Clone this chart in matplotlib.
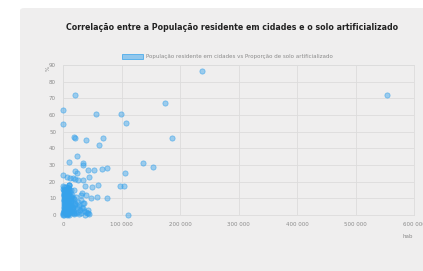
import matplotlib
matplotlib.use("Agg")
import matplotlib.pyplot as plt
from matplotlib.patches import FancyBboxPatch
from matplotlib.ticker import FuncFormatter

title = "Correlação entre a População residente em cidades e o solo artificializado"
legend_label = "População residente em cidades vs Proporção de solo artificializado"

# population (hab)
pop = [237600, 553800, 185800, 174400, 20500, 0, 0, 55900, 99100, 107700,
       19400, 20500, 39300, 68900, 62100, 24500, 10300, 33600, 33600, 136200,
       154400, 20500, 23900, 43300, 53500, 67200, 75700, 106000, 45000, 0,
       6300, 12000, 17000, 21000, 26000, 34700, 37600, 50100, 59300, 97400,
       104800, 11000, 18000, 32000, 40000, 47400, 57600, 74700, 34700, 110600,
       # dense cluster
       500, 1000, 1500, 2000, 2500, 3000, 3500, 4000, 4500, 5000,
       5500, 6000, 6500, 7000, 7500, 8000, 8500, 9000, 9500, 10000,
       500, 1200, 2200, 3200, 4200, 5200, 6200, 7200, 8200, 9200,
       800, 1800, 2800, 3800, 4800, 5800, 6800, 7800, 8800, 9800,
       1000, 2000, 3000, 4000, 5000, 6000, 7000, 8000, 9000, 10000,
       300, 1300, 2300, 3300, 4300, 5300, 6300, 7300, 8300, 9300,
       11000, 12500, 14000, 15500, 17000, 18500, 20000, 11500, 13000, 16000,
       12000, 14500, 17500, 19000, 13500, 15000, 18000, 21000, 22500, 24000,
       25000, 27000, 29000, 31000, 33000, 36000, 38000, 41000, 43000, 44000,
       26000, 28000, 30000, 35000, 39000, 42000, 23000, 27500, 31500, 36500,
       700, 1700, 2700, 3700, 4700, 5700, 6700, 7700, 8700, 9700,
       1100, 2100, 3100, 4100, 5100, 6100, 7100, 8100, 9100, 10500,
       2000, 2000, 2000, 2000, 2000, 2000, 2000, 2000, 5000, 5000,
       5000, 5000, 5000, 5000, 5000, 5000, 8000, 8000, 8000, 8000,
       8000, 8000, 8000, 8000, 11000, 11000, 11000, 11000, 11000, 11000,
       14000, 14000, 14000, 14000, 16500, 16500, 16500, 16500, 19000, 19000]
# artificialized soil share (%)
soil = [86.4, 72.0, 46.0, 67.4, 72.0, 63.0, 54.5, 60.6, 60.6, 55.2,
        46.6, 46.0, 44.8, 46.0, 41.8, 35.6, 32.0, 31.4, 30.0, 31.4,
        28.8, 26.6, 25.0, 27.0, 27.0, 27.4, 28.0, 25.4, 22.6, 24.0,
        23.0, 22.5, 22.0, 21.5, 21.0, 21.0, 17.4, 16.8, 18.0, 17.4,
        17.4, 18.0, 15.0, 13.4, 12.0, 10.4, 10.6, 10.0, 7.4, 0.0,
        # dense cluster
        1.0, 3.0, 5.0, 7.0, 9.0, 11.0, 13.0, 15.0, 17.0, 2.0,
        4.0, 6.0, 8.0, 10.0, 12.0, 14.0, 16.0, 1.5, 3.5, 5.5,
        15.5, 13.5, 11.5, 9.5, 7.5, 5.5, 3.5, 1.5, 0.5, 16.5,
        0.5, 2.5, 4.5, 6.5, 8.5, 10.5, 12.5, 14.5, 16.5, 18.0,
        12.0, 9.0, 6.0, 3.0, 0.5, 14.0, 11.0, 8.0, 5.0, 2.0,
        17.5, 15.0, 12.5, 10.0, 7.5, 5.0, 2.5, 0.0, 16.0, 13.0,
        3.0, 6.0, 9.0, 12.0, 4.0, 1.0, 7.0, 14.0, 10.0, 2.0,
        8.0, 11.0, 5.0, 0.5, 15.0, 3.5, 9.5, 6.5, 1.5, 4.5,
        2.0, 0.5, 3.0, 1.0, 4.0, 2.5, 0.0, 1.5, 3.0, 0.5,
        8.0, 5.0, 12.0, 4.0, 2.0, 1.0, 11.0, 6.0, 9.0, 7.0,
        0.0, 2.0, 4.0, 6.0, 8.0, 10.0, 12.0, 14.0, 16.0, 18.0,
        17.0, 15.0, 13.0, 11.0, 9.0, 7.0, 5.0, 3.0, 1.0, 0.0,
        0.2, 2.2, 4.2, 6.2, 8.2, 10.2, 12.2, 14.2, 1.2, 3.2,
        5.2, 7.2, 9.2, 11.2, 13.2, 15.2, 0.8, 2.8, 4.8, 6.8,
        8.8, 10.8, 12.8, 14.8, 1.8, 4.4, 6.9, 9.4, 11.9, 15.8,
        2.6, 5.6, 8.6, 11.6, 1.4, 4.1, 7.7, 10.1, 2.3, 6.3]

xticks = [0, 100000, 200000, 300000, 400000, 500000, 600000]
yticks = [0, 10, 20, 30, 40, 50, 60, 70, 80, 90]

W, H = 423, 271
fig = plt.figure(figsize=(W / 100, H / 100), dpi=100)
fig.patch.set_facecolor("white")

card = FancyBboxPatch((20 / W, -0.05), 1.2, (H - 8) / H + 0.05,
                      boxstyle="round,pad=0,rounding_size=0.01",
                      transform=fig.transFigure, facecolor="#efeeee",
                      edgecolor="none", zorder=-5)
fig.patches.append(card)

ax = fig.add_axes([63 / W, (H - 215) / H, (414 - 63) / W, (215 - 65) / H])
ax.set_zorder(2)
ax.set_facecolor("none")
ax.scatter(pop, soil, s=14, facecolor=(54 / 255, 162 / 255, 235 / 255, 0.45),
           edgecolor=(54 / 255, 162 / 255, 235 / 255, 0.6), linewidths=0.6,
           zorder=3, clip_on=False)
ax.set_xlim(0, 600000)
ax.set_ylim(0, 90)
ax.set_xticks(xticks)
ax.set_yticks(yticks)
ax.xaxis.set_major_formatter(FuncFormatter(lambda v, p: f"{int(v):,}".replace(",", " ")))
ax.grid(True, color="#dcdcdc", linewidth=0.6, zorder=0)
ax.set_axisbelow(True)
for s in ax.spines.values():
    s.set_color("#dcdcdc")
    s.set_linewidth(0.6)
ax.tick_params(length=0, labelsize=4, colors="#8a8a8a", pad=5)

fig.text(232 / W, 1 - 27 / H, title, ha="center", va="center", fontsize=5.7,
         color="#222222", fontweight="semibold", zorder=3)
fig.patches.append(plt.Rectangle((122 / W, 1 - 59 / H), 21 / W, 5 / H,
                                 transform=fig.transFigure,
                                 facecolor=(54 / 255, 162 / 255, 235 / 255, 0.5),
                                 edgecolor=(54 / 255, 162 / 255, 235 / 255), linewidth=0.5,
                                 zorder=3))
fig.text(146 / W, 1 - 56.5 / H, legend_label, ha="left", va="center", fontsize=4,
         color="#8a8a8a", zorder=3)
fig.text(48 / W, 1 - 68 / H, "%", ha="center", va="center", fontsize=4,
         color="#8a8a8a", rotation=90, zorder=3)
fig.text(408 / W, 1 - 237 / H, "hab", ha="center", va="center", fontsize=4,
         color="#8a8a8a", zorder=3)

fig.savefig("out.png", dpi=100)
